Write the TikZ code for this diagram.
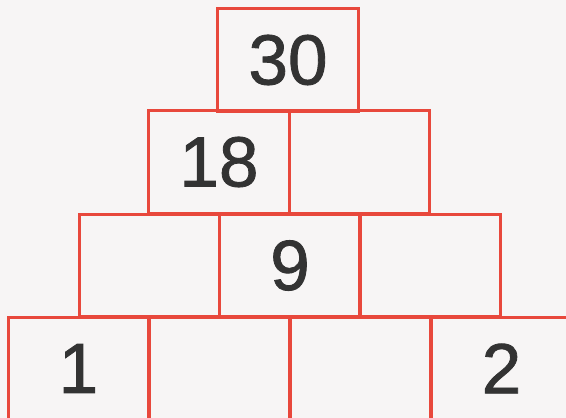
\documentclass[tikz,border=0pt]{standalone}
\usepackage{fontspec}
\setmainfont{Liberation Sans}
\newfontfamily\numfont[FakeBold=1.2]{Liberation Sans}
\definecolor{boxred}{HTML}{E8483C}
\definecolor{numgray}{HTML}{333333}
\definecolor{paper}{HTML}{F7F5F5}
\begin{document}
\begin{tikzpicture}[x=1pt,y=-1pt,
  cell/.style={draw=boxred, line width=3pt, minimum width=140.5pt, minimum height=102.5pt,
    inner sep=0pt, outer sep=0pt, text=numgray, font=\numfont\fontsize{71}{71}\selectfont}]
\fill[paper] (0,0) rectangle (566,418);
\useasboundingbox (0,0) rectangle (566,418);
\begin{scope}
\clip (0,0) rectangle (566,418);
% bottom row
\node[cell] (b1) at (78.5,368.5) {1};
\node[cell] (b2) at (219.5,368.5) {};
\node[cell] (b3) at (360.5,368.5) {};
\node[cell] (b4) at (501.5,368.5) {2};
% third row
\node[cell] (c1) at (149.5,265.5) {};
\node[cell] (c2) at (290,265.5) {9};
\node[cell] (c3) at (430,265.5) {};
% second row
\node[cell] (r1) at (219,162) {18};
\node[cell] (r2) at (359.5,162) {};
% top
\node[cell] (t1) at (288,60) {30};
\end{scope}
\end{tikzpicture}
\end{document}
